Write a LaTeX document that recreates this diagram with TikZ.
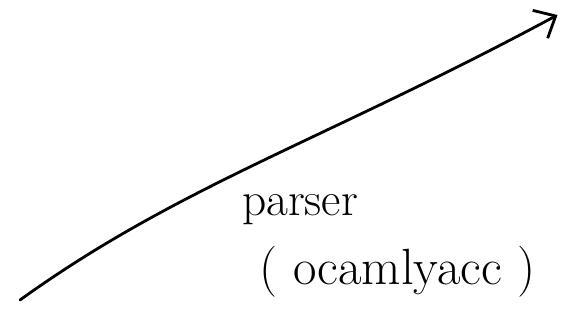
\documentclass[tikz,border=0pt]{standalone}
\usepackage{tikz}
\usetikzlibrary{positioning,arrows.meta}

\tikzset{
  stroke/.style={line width=1.6pt, line cap=round, line join=round},
  hand/.style={font=\fontsize{27}{29}\selectfont, inner sep=1pt}
}

\begin{document}
\begin{tikzpicture}
\useasboundingbox (0,0) rectangle (11.48,6.7);
\coordinate (src) at (0.4,0.7);
\coordinate (dst) at (11.15,6.4);
\draw[stroke, -{Straight Barb[length=10pt,width=18pt]}] (src) .. controls (3.6,3.0) and (6.5,3.9) .. (dst);
\node[hand] (lbl) at (6.0,2.5) {parser};
\node[hand, font=\fontsize{29}{31}\selectfont, below right=0.35cm and -2.05cm of lbl] (tool) {( ocamlyacc )};
\end{tikzpicture}
\end{document}
